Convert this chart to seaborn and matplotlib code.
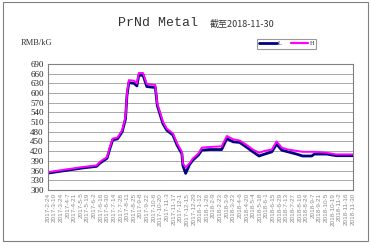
import matplotlib
matplotlib.use("Agg")
import matplotlib.pyplot as plt
import seaborn as sns
import pandas as pd
from matplotlib.lines import Line2D

dates = ["2017-02-24", "2017-04-11", "2017-05-09", "2017-06-07", "2017-06-14", "2017-06-29",
         "2017-07-05", "2017-07-11", "2017-07-21", "2017-07-31", "2017-08-07", "2017-08-10",
         "2017-08-14", "2017-08-25", "2017-08-31", "2017-09-04", "2017-09-13", "2017-09-21",
         "2017-10-09", "2017-10-13", "2017-10-25", "2017-11-02", "2017-11-15", "2017-11-24",
         "2017-12-04", "2017-12-06", "2017-12-12", "2017-12-20", "2017-12-27", "2018-01-08",
         "2018-01-15", "2018-02-01", "2018-02-26", "2018-03-09", "2018-03-22", "2018-04-05",
         "2018-04-20", "2018-05-03", "2018-05-16", "2018-05-28", "2018-06-12", "2018-06-22",
         "2018-07-03", "2018-07-16", "2018-08-03", "2018-08-16", "2018-09-04", "2018-09-10",
         "2018-10-06", "2018-10-26", "2018-11-30"]
low = [352, 362, 368, 373, 383, 398, 428, 455, 458, 480, 520, 592,
       632, 630, 622, 655, 655, 620, 617, 562, 505, 485, 470, 438,
       412, 376, 351, 378, 392, 408, 423, 425, 425, 459, 449, 447,
       432, 418, 405, 411, 418, 442, 423, 418, 411, 405, 405, 411,
       411, 406, 406]
high = [355, 365, 371, 376, 387, 402, 433, 459, 462, 485, 526, 598,
        640, 638, 630, 662, 662, 628, 625, 568, 511, 490, 475, 444,
        418, 382, 370, 382, 397, 413, 431, 433, 435, 467, 457, 453,
        439, 425, 415, 421, 425, 450, 431, 425, 421, 418, 418, 418,
        415, 410, 410]

tick_labels = ["2017-2-24", "2017-3-10", "2017-3-24", "2017-4-7", "2017-4-21", "2017-5-5",
               "2017-5-19", "2017-6-2", "2017-6-16", "2017-6-30", "2017-7-14", "2017-7-28",
               "2017-8-11", "2017-8-25", "2017-9-8", "2017-9-22", "2017-10-6", "2017-10-20",
               "2017-11-3", "2017-11-17", "2017-12-1", "2017-12-15", "2017-12-29", "2018-1-12",
               "2018-1-26", "2018-2-9", "2018-2-23", "2018-3-9", "2018-3-23", "2018-4-6",
               "2018-4-20", "2018-5-4", "2018-5-18", "2018-6-1", "2018-6-15", "2018-6-29",
               "2018-7-13", "2018-7-27", "2018-8-10", "2018-8-24", "2018-9-7", "2018-9-21",
               "2018-10-5", "2018-10-19", "2018-11-2", "2018-11-16", "2018-11-30"]
y_ticks = [300, 330, 360, 390, 420, 450, 480, 510, 540, 570, 600, 630, 660, 690]

sns.set_theme(style="white")
plt.rcParams['font.family'] = ['Liberation Serif', 'Noto Sans CJK SC', 'DejaVu Sans']

df = pd.DataFrame({"date": pd.to_datetime(dates * 2),
                   "price": low + high,
                   "series": ["L"] * len(low) + ["H"] * len(high)})

fig = plt.figure(figsize=(3.71, 2.46), dpi=100)
fig.patches.append(plt.Rectangle((0.008, 0.02), 0.985, 0.97, transform=fig.transFigure,
                                 fill=False, edgecolor="#808080", linewidth=0.8))
ax = fig.add_axes([0.129, 0.228, 0.822, 0.512])

sns.lineplot(data=df, x="date", y="price", hue="series",
             palette={"L": "#000080", "H": "#ff00ff"},
             linewidth=1.6, ax=ax, legend=False)
for ln, w in zip(ax.lines, [2.0, 1.4]):
    ln.set_linewidth(w)

ax.set_ylim(300, 690)
ax.set_yticks(y_ticks)
ax.set_yticklabels([str(v) for v in y_ticks], fontsize=6.5, color="#222222")
tick_pos = pd.to_datetime(tick_labels, format="%Y-%m-%d")
ax.set_xlim(tick_pos[0], tick_pos[-1])
ax.set_xticks(tick_pos)
ax.set_xticklabels(tick_labels, rotation=90, fontsize=4.6, color="#8a8a8a",
                   family=["Liberation Sans", "DejaVu Sans"])
ax.tick_params(axis="x", direction="in", length=2.5, width=0.5, color="#666666", pad=2)
ax.tick_params(axis="y", length=0, pad=3)
ax.set_xlabel("")
ax.set_ylabel("")
ax.grid(axis="y", color="#a8a8a8", linewidth=0.7)
ax.grid(axis="x", visible=False)
for s in ax.spines.values():
    s.set_color("#808080")
    s.set_linewidth(0.8)

fig.text(0.425, 0.905, "PrNd Metal", ha="center", va="center", fontsize=9.5,
         color="#333333", family=["Liberation Mono", "DejaVu Sans Mono"])
fig.text(0.566, 0.900, "截至2018-11-30", ha="left", va="center", fontsize=6.5,
         color="#333333", family=["Noto Sans CJK SC", "DejaVu Sans"])
fig.text(0.055, 0.825, "RMB/kG", ha="left", va="center", fontsize=6, color="#333333")

handles = [Line2D([], [], color="#000080", linewidth=2.0),
           Line2D([], [], color="#ff00ff", linewidth=1.6)]
leg = fig.legend(handles, ["L", "H"], loc="center", bbox_to_anchor=(0.773, 0.822),
                 ncol=2, fontsize=4.5, frameon=True, fancybox=False,
                 handlelength=2.8, handletextpad=0.2, columnspacing=1.4,
                 borderpad=0.35, edgecolor="#808080")
leg.get_frame().set_linewidth(0.8)

fig.savefig("out.png", dpi=100)
